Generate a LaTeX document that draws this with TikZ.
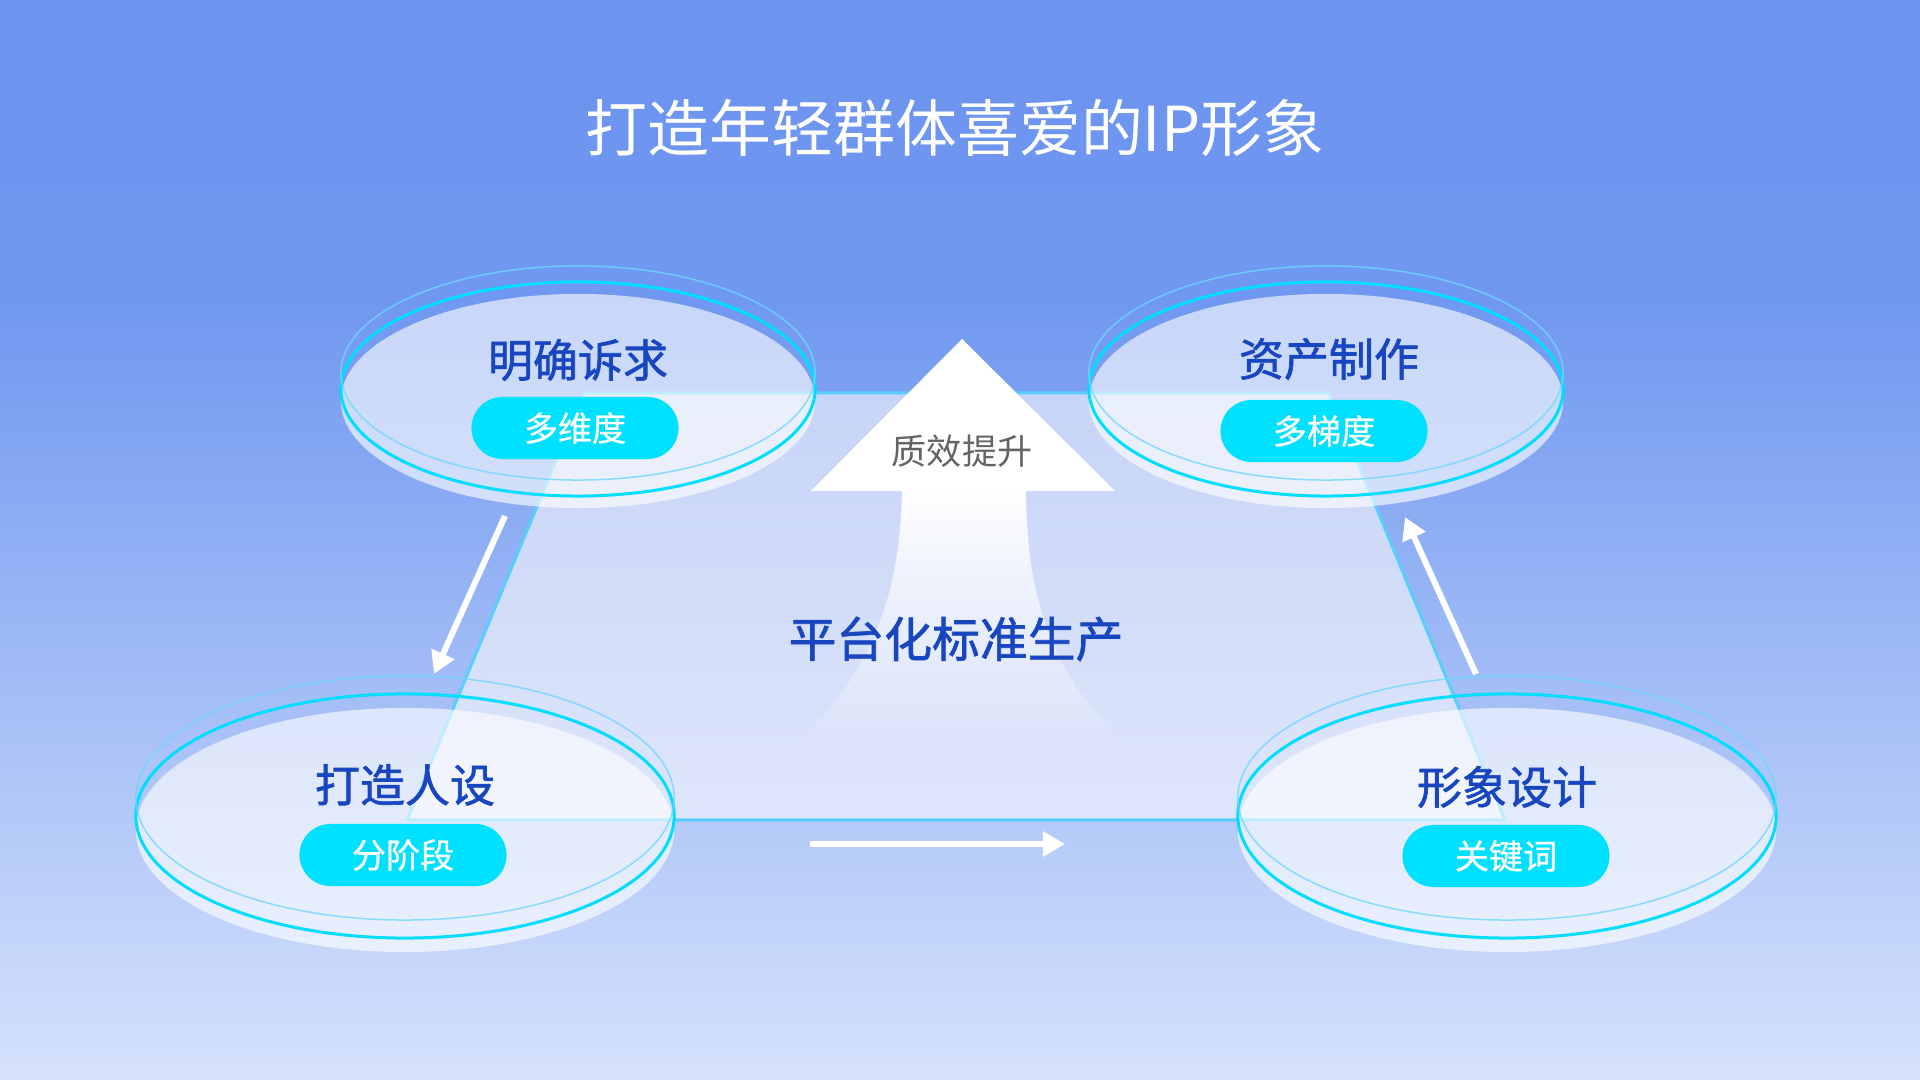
\documentclass[tikz,border=0pt]{standalone}
\usepackage{fontspec}
\setmainfont{Noto Sans CJK SC}
\newfontfamily\medfont{Noto Sans CJK SC}[FakeBold=1.4]
\newfontfamily\tagfont{Noto Sans CJK SC}[FakeBold=0.6]
\usetikzlibrary{shapes.geometric,arrows.meta,fadings}

\definecolor{bgtop}{RGB}{108,148,240}
\definecolor{bgtwo}{RGB}{112,152,240}
\definecolor{bgmid}{RGB}{185,203,247}
\definecolor{bgbot}{RGB}{214,226,252}
\definecolor{ringcyan}{RGB}{0,222,255}
\definecolor{halocyan}{RGB}{110,215,255}
\definecolor{trapcyan}{RGB}{88,206,255}
\definecolor{traptop}{RGB}{198,212,246}
\definecolor{trapbot}{RGB}{222,230,251}
\definecolor{headblue}{RGB}{24,70,192}
\definecolor{pillcyan}{RGB}{0,224,255}
\definecolor{gaingray}{RGB}{100,100,100}

\tikzfading[name=shaftfade, top color=transparent!0, middle color=transparent!30, bottom color=transparent!100]

\begin{document}
\begin{tikzpicture}[x=0.01cm, y=-0.01cm,
  discbase/.style={fill=white, fill opacity=0.62},
  discring/.style={draw=ringcyan, line width=0.03cm},
  dischalo/.style={draw=halocyan, line width=0.015cm, draw opacity=0.8},
  trapline/.style={draw=trapcyan, line width=0.03cm, line join=round},
  head/.style={text=headblue, font=\medfont\fontsize{12.8}{15}\selectfont},
  pill/.style={fill=pillcyan, text=white, rounded corners=0.31cm, minimum width=2.07cm,
    minimum height=0.62cm, inner sep=0pt, font=\tagfont\fontsize{9.7}{12}\selectfont},
  flow/.style={draw=white, line width=0.06cm, -{Triangle[length=0.22cm,width=0.24cm]}}]
\useasboundingbox (0,0) rectangle (1920,1080);
% background
\shade[top color=bgtop, bottom color=bgtwo] (0,0) rectangle (1920,300);
\shade[top color=bgtwo, middle color=bgmid, bottom color=bgbot] (0,300) rectangle (1920,1080);

\node (title) [text=white, font=\fontsize{17.6}{20}\selectfont] at (955,128) {打造年轻群体喜爱的IP形象};

% platform
\coordinate (q1) at (584,393);
\coordinate (q2) at (1329,393);
\coordinate (q3) at (1505,820);
\coordinate (q4) at (407,820);
\shade[top color=traptop, bottom color=trapbot] (q1) -- (q2) -- (q3) -- (q4) -- cycle;
\draw[trapline] (q1) -- (q2) -- (q3) -- (q4) -- cycle;

% big arrow
\fill[white, path fading=shaftfade] (902,490) .. controls (900,600) and (870,680) .. (780,760)
  -- (1140,760) .. controls (1052,680) and (1026,600) .. (1026,490) -- cycle;
\fill[white] (811,491) -- (962,339) -- (1115,491) -- cycle;
\node (gain) [text=gaingray, font=\fontsize{10}{12}\selectfont] at (962,451) {质效提升};
\node (platform) [head, font=\medfont\fontsize{13.6}{16}\selectfont] at (956,639) {平台化标准生产};

% top left
\coordinate (c1) at (578,389);
\fill[discbase] ([yshift=-0.12cm]c1) ellipse [x radius=2.37cm, y radius=1.07cm];
\draw[discring] (c1) ellipse [x radius=2.37cm, y radius=1.07cm];
\draw[dischalo] ([yshift=0.16cm]c1) ellipse [x radius=2.37cm, y radius=1.07cm];
\node (need) [head] at (578,360) {明确诉求};
\node (needtag) [pill] at (575,428) {多维度};

% top right
\coordinate (c2) at (1326,389);
\fill[discbase] ([yshift=-0.12cm]c2) ellipse [x radius=2.37cm, y radius=1.07cm];
\draw[discring] (c2) ellipse [x radius=2.37cm, y radius=1.07cm];
\draw[dischalo] ([yshift=0.16cm]c2) ellipse [x radius=2.37cm, y radius=1.07cm];
\node (asset) [head] at (1329,359) {资产制作};
\node (assettag) [pill] at (1324,431) {多梯度};

% bottom left
\coordinate (c3) at (405,816);
\fill[discbase] ([yshift=-0.14cm]c3) ellipse [x radius=2.69cm, y radius=1.22cm];
\draw[discring] (c3) ellipse [x radius=2.69cm, y radius=1.22cm];
\draw[dischalo] ([yshift=0.18cm]c3) ellipse [x radius=2.69cm, y radius=1.22cm];
\node (role) [head] at (405,785) {打造人设};
\node (roletag) [pill] at (403,855) {分阶段};

% bottom right
\coordinate (c4) at (1507,816);
\fill[discbase] ([yshift=-0.14cm]c4) ellipse [x radius=2.69cm, y radius=1.22cm];
\draw[discring] (c4) ellipse [x radius=2.69cm, y radius=1.22cm];
\draw[dischalo] ([yshift=0.18cm]c4) ellipse [x radius=2.69cm, y radius=1.22cm];
\node (design) [head] at (1507,787) {形象设计};
\node (designtag) [pill] at (1506,856) {关键词};

% flow arrows
\coordinate (f1) at (505,516);
\coordinate (f2) at (434,674);
\coordinate (f3) at (810,844);
\coordinate (f4) at (1065,844);
\coordinate (f5) at (1476,674);
\coordinate (f6) at (1405,517);
\draw[flow] (f1) -- (f2);
\draw[flow] (f3) -- (f4);
\draw[flow] (f5) -- (f6);
\end{tikzpicture}
\end{document}
